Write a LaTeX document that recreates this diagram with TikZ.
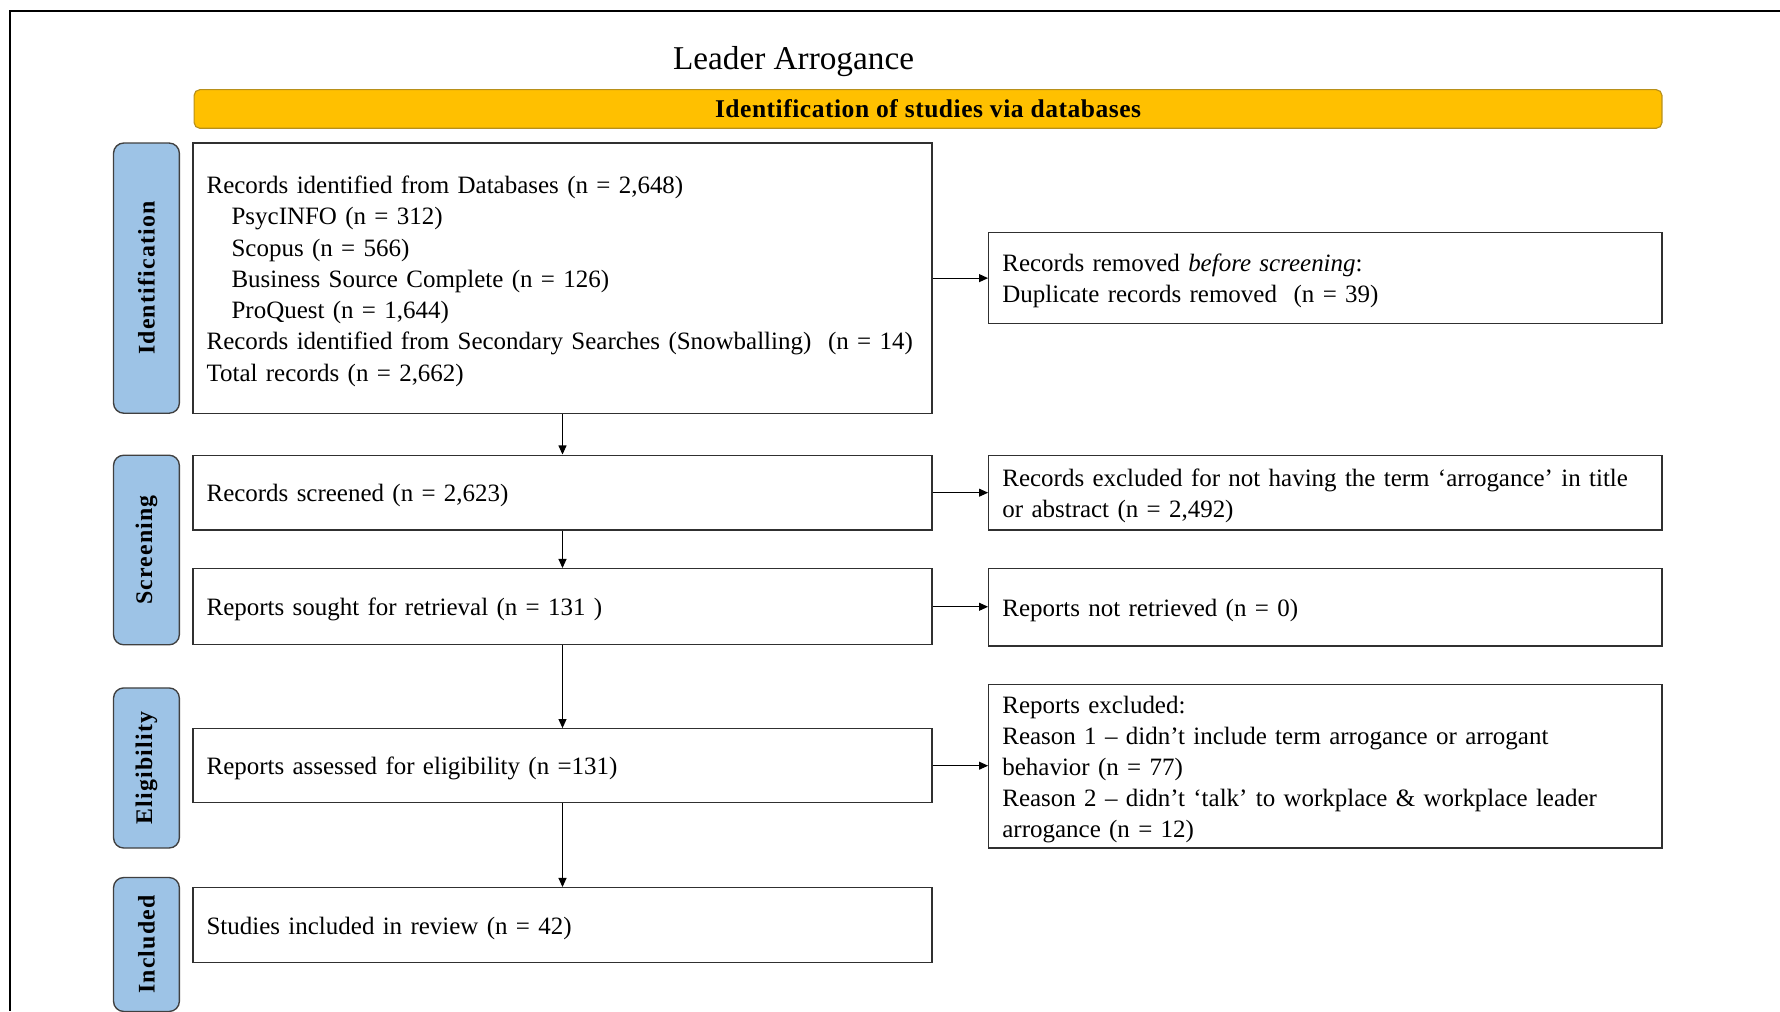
\documentclass[tikz,border=0pt]{standalone}
\usepackage{fontspec}
\setmainfont{Liberation Serif}
\newfontfamily\phasefont[LetterSpace=5]{Liberation Serif}
\newfontfamily\bannerfont[LetterSpace=2]{Liberation Serif}
\usetikzlibrary{arrows.meta}

\definecolor{phaseblue}{HTML}{9DC3E6}
\definecolor{phaseedge}{HTML}{404040}
\definecolor{baryellow}{HTML}{FFC000}
\definecolor{baredge}{HTML}{B8901A}
\definecolor{boxedge}{HTML}{303030}

\tikzset{
  bodyfont/.style={font=\fontsize{22}{27.5}\selectfont},
  % taller first line so the text block sits a little low, as Word sets it
  lowered/.style={execute at begin node={\rule{0pt}{21pt}}},
  mainbox/.style={draw=boxedge, line width=1.2pt, fill=white, bodyfont,
    text width=627pt, inner xsep=12pt, inner ysep=0pt, align=left, lowered},
  sidebox/.style={draw=boxedge, line width=1.2pt, fill=white, bodyfont,
    text width=569pt, inner xsep=12pt, inner ysep=0pt, align=left, lowered},
  phase/.style={draw=phaseedge, line width=1.2pt, fill=phaseblue,
    rounded corners=9pt, rotate=90, minimum height=58pt, inner sep=0pt,
    font=\fontsize{21}{24}\selectfont\phasefont\bfseries},
  flow/.style={draw=black, line width=1pt,
    -{Triangle[length=8pt,width=7pt]}},
}

\begin{document}
\begin{tikzpicture}[x=1pt,y=-1pt]
  \useasboundingbox (0,0) rectangle (1568,891);

  % outer frame (top and left edges)
  \draw[line width=1.6pt, black] (1568,10) -- (9,10) -- (9,891);

  % title and banner
  \node[font=\fontsize{29.3}{34}\selectfont] (title) at (699,54) {Leader Arrogance};
  \node[draw=baredge, line width=1pt, fill=baryellow, rounded corners=5pt,
        minimum width=1293pt, minimum height=34pt, inner sep=0pt,
        font=\fontsize{22.5}{24}\selectfont\bannerfont\bfseries] (banner) at (817.5,96)
        {Identification of studies via databases};

  % phase labels
  \node[phase, minimum width=238pt] (pid)  at (129,245)   {Identification};
  \node[phase, minimum width=167pt] (pscr) at (129,484.5) {Screening};
  \node[phase, minimum width=141pt] (pel)  at (129,676.5) {Eligibility};
  \node[phase, minimum width=118pt] (pinc) at (129,832)   {Included};

  % main flow boxes
  \node[mainbox, minimum height=238pt] (ident) at (495.5,245) {%
    Records identified from Databases (n = 2,648)\\
    \hspace*{22pt}PsycINFO (n = 312)\\
    \hspace*{22pt}Scopus (n = 566)\\
    \hspace*{22pt}Business Source Complete (n = 126)\\
    \hspace*{22pt}ProQuest (n = 1,644)\\
    Records identified from Secondary Searches (Snowballing)\ \ (n = 14)\\
    Total records (n = 2,662)};
  \node[mainbox, minimum height=66pt] (screen) at (495.5,434)
    {Records screened (n = 2,623)};
  \node[mainbox, minimum height=67pt] (sought) at (495.5,534.5)
    {Reports sought for retrieval (n = 131 )};
  \node[mainbox, minimum height=65pt] (assess) at (495.5,674.5)
    {Reports assessed for eligibility (n =131)};
  \node[mainbox, minimum height=66pt] (incl) at (495.5,815)
    {Studies included in review (n = 42)};

  % exclusion boxes
  \node[sidebox, minimum height=80pt] (removed) at (1167.5,245) {%
    Records removed \textit{before screening}:\\
    Duplicate records removed\ \ (n = 39)};
  \node[sidebox, minimum height=66pt] (excluded) at (1167.5,434) {%
    Records excluded for not having the term ‘arrogance’ in title\\
    or abstract (n = 2,492)};
  \node[sidebox, minimum height=68pt] (notret) at (1167.5,535)
    {Reports not retrieved (n = 0)};
  \node[sidebox, minimum height=144pt] (repexcl) at (1167.5,675) {%
    Reports excluded:\\
    Reason 1 – didn’t include term arrogance or arrogant\\
    behavior (n = 77)\\
    Reason 2 – didn’t ‘talk’ to workplace \& workplace leader\\
    arrogance (n = 12)};

  % connectors
  \draw[flow] (ident)  -- (screen);
  \draw[flow] (screen) -- (sought);
  \draw[flow] (sought) -- (assess);
  \draw[flow] (assess) -- (incl);
  \draw[flow] (ident.east)  -- (ident.east -| removed.west);
  \draw[flow] (screen.east) -- (screen.east -| excluded.west);
  \draw[flow] (sought.east) -- (sought.east -| notret.west);
  \draw[flow] (assess.east) -- (assess.east -| repexcl.west);
\end{tikzpicture}
\end{document}
